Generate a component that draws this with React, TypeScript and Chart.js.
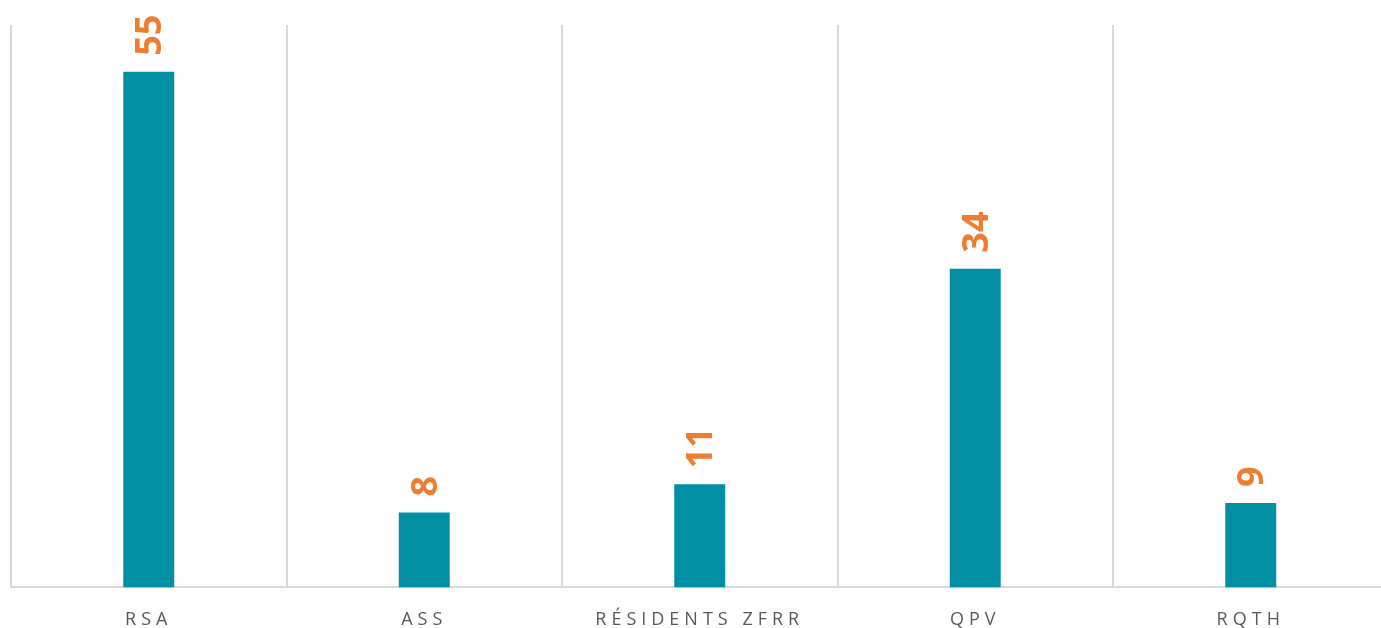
import React, { useEffect, useRef } from "react";
import { Chart, registerables } from "chart.js";

Chart.register(...registerables);

const categories = ["RSA", "ASS", "RÉSIDENTS ZFRR", "QPV", "RQTH"];
const values = [55, 8, 11, 34, 9];
const yMax = 60;

const BAR_COLOR = "#008FA3";
const LABEL_COLOR = "#EE7D31";
const GRID_COLOR = "#D9D9D9";
const TICK_COLOR = "#595959";

export default function App() {
  const ref = useRef<HTMLCanvasElement | null>(null);

  useEffect(() => {
    if (!ref.current) return;
    const spacingPlugin = {
      id: "spacing",
      beforeDraw(chart: any) {
        chart.ctx.letterSpacing = "5px";
      },
      afterDatasetsDraw(chart: any) {
        const ctx = chart.ctx;
        ctx.save();
        ctx.letterSpacing = "0px";
        const meta = chart.getDatasetMeta(0);
        meta.data.forEach((bar: any, i: number) => {
          ctx.save();
          ctx.translate(bar.x, bar.y - 16);
          ctx.rotate(-Math.PI / 2);
          ctx.fillStyle = LABEL_COLOR;
          ctx.font = "bold 36px 'Open Sans'";
          ctx.textAlign = "left";
          ctx.textBaseline = "middle";
          ctx.fillText(String(values[i]), 0, 2);
          ctx.restore();
        });
        ctx.restore();
      },
    };
    const chart = new Chart(ref.current, {
      type: "bar",
      data: {
        labels: categories,
        datasets: [
          {
            data: values,
            backgroundColor: BAR_COLOR,
            categoryPercentage: 1,
            barPercentage: 0.185,
          },
        ],
      },
      options: {
        animation: false,
        responsive: false,
        maintainAspectRatio: false,
        layout: { padding: { left: 11, right: 11.5, top: 25, bottom: 0 } },
        plugins: { legend: { display: false }, tooltip: { enabled: false } },
        scales: {
          x: {
            offset: true,
            grid: {
              display: true,
              offset: true,
              color: GRID_COLOR,
              lineWidth: 2,
              drawTicks: false,
            },
            border: { display: true, color: GRID_COLOR, width: 2 },
            ticks: {
              color: TICK_COLOR,
              padding: 22,
              font: { family: "'Open Sans'", size: 18 },
              maxRotation: 0,
              autoSkip: false,
            },
          },
          y: {
            display: false,
            min: 0,
            max: yMax,
          },
        },
      },
      plugins: [spacingPlugin],
    });
    return () => chart.destroy();
  }, []);

  return (
    <div
      style={{
        position: "absolute",
        left: 0,
        top: 0,
        width: 1381,
        height: 628,
        overflow: "hidden",
        background: "#fff",
      }}
    >
      <canvas ref={ref} width={1400} height={653} style={{ width: 1400, height: 653 }} />
    </div>
  );
}
